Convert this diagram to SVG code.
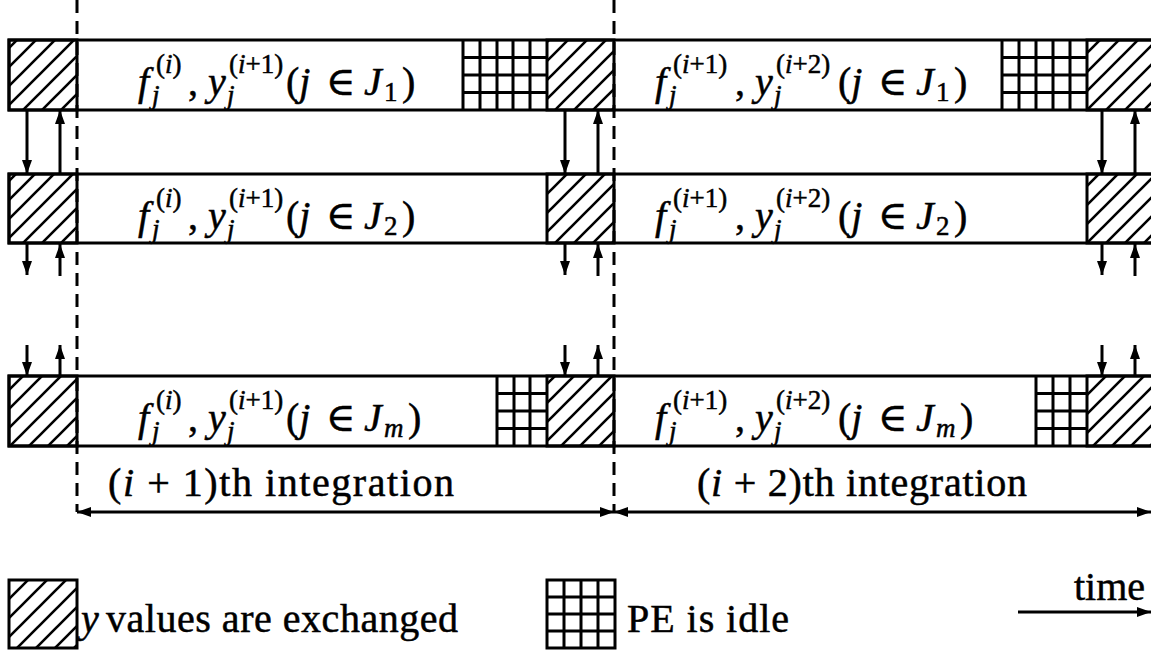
<svg xmlns="http://www.w3.org/2000/svg" width="1151" height="652" viewBox="0 0 1151 652">
<style>
.box{fill:#fff;stroke:#000;stroke-width:3}
.hb{fill:url(#hatch);stroke:#000;stroke-width:3}
.gr{fill:none;stroke:#000;stroke-width:3}
.dash{stroke:#000;stroke-width:3;stroke-dasharray:13 8;fill:none}
.ar{stroke:#000;stroke-width:3;fill:none}
.m{font-family:"Liberation Serif","DejaVu Serif",serif;font-size:40px;fill:#000;stroke:#000;stroke-width:0.5}
.s{font-size:27px}
.it{font-style:italic}
</style>
<defs>
<pattern id="hatch" patternUnits="userSpaceOnUse" width="19" height="19">
<path d="M-5,5 L5,-5 M0,19 L19,0 M14,24 L24,14" stroke="#000" stroke-width="2.6"/>
</pattern>
<marker id="ah" viewBox="0 0 14 10" refX="14" refY="5" markerWidth="14" markerHeight="10" markerUnits="userSpaceOnUse" orient="auto-start-reverse">
<path d="M0,0 L14,5 L0,10 z" fill="#000"/>
</marker>
</defs>
<rect width="1151" height="652" fill="#fff"/>

<g id="row1">
<rect class="box" x="9" y="40" width="1160" height="70"/>
<rect class="hb" x="9" y="40" width="68" height="70"/>
<rect class="hb" x="547" y="40" width="67" height="70"/>
<rect class="hb" x="1087" y="40" width="70" height="70"/>
<path class="gr" d="M463,40 V110 M480,40 V110 M497,40 V110 M513,40 V110 M530,40 V110 M463,57.5 H547 M463,75 H547 M463,92.5 H547"/>
<path class="gr" d="M1002,40 V110 M1019,40 V110 M1036,40 V110 M1053,40 V110 M1070,40 V110 M1002,57.5 H1087 M1002,75 H1087 M1002,92.5 H1087"/>
<text class="m" y="95"><tspan x="138" class="it">f</tspan><tspan x="152" y="104" class="s it">j</tspan><tspan x="156" y="73" class="s">(<tspan class="it">i</tspan>)</tspan><tspan x="188" y="95">,</tspan><tspan x="208" class="it">y</tspan><tspan x="227" y="104" class="s it">j</tspan><tspan x="229" y="73" class="s">(<tspan class="it">i</tspan>+1)</tspan><tspan x="286" y="95">(<tspan class="it">j</tspan></tspan><tspan x="326">∈</tspan><tspan x="364" class="it">J</tspan><tspan x="384" y="101" class="s">1</tspan><tspan x="402" y="95">)</tspan></text>
<text class="m" y="95"><tspan x="655" class="it">f</tspan><tspan x="669" y="104" class="s it">j</tspan><tspan x="673" y="73" class="s">(<tspan class="it">i</tspan>+1)</tspan><tspan x="735" y="95">,</tspan><tspan x="755" class="it">y</tspan><tspan x="774" y="104" class="s it">j</tspan><tspan x="776" y="73" class="s">(<tspan class="it">i</tspan>+2)</tspan><tspan x="838" y="95">(<tspan class="it">j</tspan></tspan><tspan x="878">∈</tspan><tspan x="916" class="it">J</tspan><tspan x="936" y="101" class="s">1</tspan><tspan x="954" y="95">)</tspan></text>
</g>

<g id="row2">
<rect class="box" x="9" y="174" width="1160" height="69"/>
<rect class="hb" x="9" y="174" width="68" height="69"/>
<rect class="hb" x="547" y="174" width="67" height="69"/>
<rect class="hb" x="1087" y="174" width="70" height="69"/>
<text class="m" y="229"><tspan x="138" class="it">f</tspan><tspan x="152" y="238" class="s it">j</tspan><tspan x="156" y="207" class="s">(<tspan class="it">i</tspan>)</tspan><tspan x="188" y="229">,</tspan><tspan x="208" class="it">y</tspan><tspan x="227" y="238" class="s it">j</tspan><tspan x="229" y="207" class="s">(<tspan class="it">i</tspan>+1)</tspan><tspan x="286" y="229">(<tspan class="it">j</tspan></tspan><tspan x="326">∈</tspan><tspan x="364" class="it">J</tspan><tspan x="384" y="235" class="s">2</tspan><tspan x="402" y="229">)</tspan></text>
<text class="m" y="229"><tspan x="655" class="it">f</tspan><tspan x="669" y="238" class="s it">j</tspan><tspan x="673" y="207" class="s">(<tspan class="it">i</tspan>+1)</tspan><tspan x="735" y="229">,</tspan><tspan x="755" class="it">y</tspan><tspan x="774" y="238" class="s it">j</tspan><tspan x="776" y="207" class="s">(<tspan class="it">i</tspan>+2)</tspan><tspan x="838" y="229">(<tspan class="it">j</tspan></tspan><tspan x="878">∈</tspan><tspan x="916" class="it">J</tspan><tspan x="936" y="235" class="s">2</tspan><tspan x="954" y="229">)</tspan></text>
</g>

<g id="row3">
<rect class="box" x="9" y="376" width="1160" height="70"/>
<rect class="hb" x="9" y="376" width="68" height="70"/>
<rect class="hb" x="547" y="376" width="67" height="70"/>
<rect class="hb" x="1087" y="376" width="70" height="70"/>
<path class="gr" d="M497,376 V446 M514,376 V446 M530,376 V446 M497,393.5 H547 M497,411 H547 M497,428.5 H547"/>
<path class="gr" d="M1036,376 V446 M1053,376 V446 M1070,376 V446 M1036,393.5 H1087 M1036,411 H1087 M1036,428.5 H1087"/>
<text class="m" y="431"><tspan x="138" class="it">f</tspan><tspan x="152" y="440" class="s it">j</tspan><tspan x="156" y="409" class="s">(<tspan class="it">i</tspan>)</tspan><tspan x="188" y="431">,</tspan><tspan x="208" class="it">y</tspan><tspan x="227" y="440" class="s it">j</tspan><tspan x="229" y="409" class="s">(<tspan class="it">i</tspan>+1)</tspan><tspan x="286" y="431">(<tspan class="it">j</tspan></tspan><tspan x="326">∈</tspan><tspan x="364" class="it">J</tspan><tspan x="384" y="437" class="s it">m</tspan><tspan x="408" y="431">)</tspan></text>
<text class="m" y="431"><tspan x="655" class="it">f</tspan><tspan x="669" y="440" class="s it">j</tspan><tspan x="673" y="409" class="s">(<tspan class="it">i</tspan>+1)</tspan><tspan x="735" y="431">,</tspan><tspan x="755" class="it">y</tspan><tspan x="774" y="440" class="s it">j</tspan><tspan x="776" y="409" class="s">(<tspan class="it">i</tspan>+2)</tspan><tspan x="838" y="431">(<tspan class="it">j</tspan></tspan><tspan x="878">∈</tspan><tspan x="916" class="it">J</tspan><tspan x="936" y="437" class="s it">m</tspan><tspan x="960" y="431">)</tspan></text>
</g>

<g id="connectors">
<path class="dash" d="M77,0 V512"/>
<path class="dash" d="M614,0 V512"/>
<path class="ar" d="M27,110 V174" marker-end="url(#ah)"/>
<path class="ar" d="M60,174 V110" marker-end="url(#ah)"/>
<path class="ar" d="M565,110 V174" marker-end="url(#ah)"/>
<path class="ar" d="M598,174 V110" marker-end="url(#ah)"/>
<path class="ar" d="M1102,110 V174" marker-end="url(#ah)"/>
<path class="ar" d="M1135,174 V110" marker-end="url(#ah)"/>
<path class="ar" d="M27,243 V275" marker-end="url(#ah)"/>
<path class="ar" d="M60,276 V244" marker-end="url(#ah)"/>
<path class="ar" d="M565,243 V275" marker-end="url(#ah)"/>
<path class="ar" d="M598,276 V244" marker-end="url(#ah)"/>
<path class="ar" d="M1102,243 V275" marker-end="url(#ah)"/>
<path class="ar" d="M1135,276 V244" marker-end="url(#ah)"/>
<path class="ar" d="M27,345 V376" marker-end="url(#ah)"/>
<path class="ar" d="M60,376 V345" marker-end="url(#ah)"/>
<path class="ar" d="M565,345 V376" marker-end="url(#ah)"/>
<path class="ar" d="M598,376 V345" marker-end="url(#ah)"/>
<path class="ar" d="M1102,345 V376" marker-end="url(#ah)"/>
<path class="ar" d="M1135,376 V345" marker-end="url(#ah)"/>
<path class="ar" d="M77,512 H614" marker-start="url(#ah)" marker-end="url(#ah)"/>
<path class="ar" d="M614,512 H1151" marker-start="url(#ah)" marker-end="url(#ah)"/>
<path class="ar" d="M1018,612 H1151" marker-end="url(#ah)"/>
</g>

<g id="labels">
<text class="m" x="108" y="496" textLength="346">(<tspan class="it">i</tspan> + 1)th integration</text>
<text class="m" x="697" y="496" textLength="330">(<tspan class="it">i</tspan> + 2)th integration</text>
</g>

<g id="legend-hatch">
<rect class="hb" x="9" y="580" width="68" height="68"/>
<text class="m" x="81" y="632"><tspan class="it">y</tspan><tspan x="106" textLength="352">values are exchanged</tspan></text>
</g>
<g id="legend-idle">
<rect class="box" x="547" y="580" width="68" height="68"/>
<path class="gr" d="M564,580 V648 M581,580 V648 M598,580 V648 M547,597 H615 M547,614 H615 M547,631 H615"/>
<text class="m" x="627" y="632" textLength="162">PE is idle</text>
</g>
<g id="legend-time">
<text class="m" x="1074" y="600">time</text>
</g>
</svg>
